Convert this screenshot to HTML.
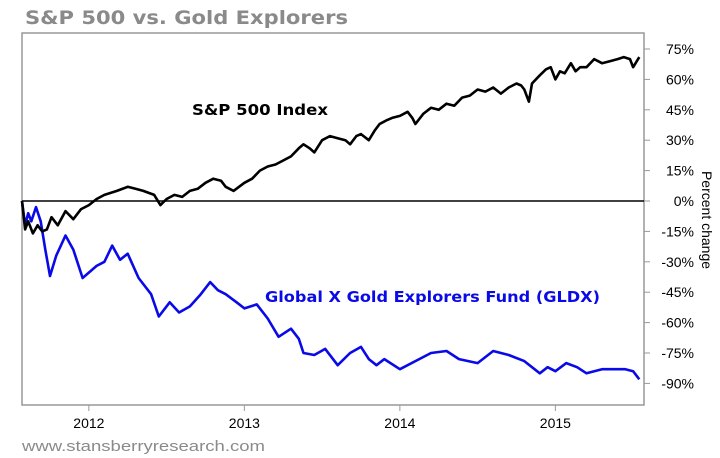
<!DOCTYPE html>
<html><head><meta charset="utf-8"><style>
body{margin:0;background:#fff;}
svg{display:block;font-family:"Liberation Sans",Arial,sans-serif;}
</style></head><body>
<svg id="chart" width="720" height="458" viewBox="0 0 720 458">
<text x="25" y="24" font-size="19" font-weight="bold" fill="#8a8a8a" font-family="DejaVu Sans, sans-serif" textLength="323" lengthAdjust="spacingAndGlyphs">S&amp;P 500 vs. Gold Explorers</text>
<rect x="22" y="33" width="622" height="372" fill="none" stroke="#999" stroke-width="1.5"/>
<g id="axes"></g>
<g id="series"></g>
<text x="192" y="115" font-size="15" font-weight="bold" fill="#000" font-family="DejaVu Sans, sans-serif" textLength="136" lengthAdjust="spacingAndGlyphs">S&amp;P 500 Index</text>
<text x="265" y="302" font-size="15" font-weight="bold" fill="#0a0ae8" font-family="DejaVu Sans, sans-serif" textLength="335" lengthAdjust="spacingAndGlyphs">Global X Gold Explorers Fund (GLDX)</text>
<text transform="translate(702,220) rotate(90)" text-anchor="middle" font-size="14" fill="#000">Percent change</text>
<text x="22" y="451" font-size="15" fill="#8a8a8a" textLength="243" lengthAdjust="spacingAndGlyphs">www.stansberryresearch.com</text>
</svg>
<script>
const yTicks = [75,60,45,30,15,0,-15,-30,-45,-60,-75,-90];
const xYears = [2012,2013,2014,2015];
const spDates = [2011.57,2011.59,2011.61,2011.64,2011.67,2011.70,2011.73,2011.76,2011.80,2011.85,2011.90,2011.95,2012.0,2012.05,2012.1,2012.18,2012.25,2012.3,2012.35,2012.42,2012.46,2012.5,2012.55,2012.6,2012.65,2012.7,2012.75,2012.8,2012.85,2012.88,2012.93,2013.0,2013.05,2013.1,2013.15,2013.2,2013.25,2013.3,2013.35,2013.38,2013.42,2013.45,2013.5,2013.55,2013.6,2013.65,2013.68,2013.72,2013.75,2013.8,2013.84,2013.87,2013.92,2013.95,2014.0,2014.05,2014.08,2014.1,2014.15,2014.2,2014.25,2014.3,2014.35,2014.4,2014.45,2014.5,2014.55,2014.6,2014.65,2014.7,2014.75,2014.78,2014.8,2014.83,2014.85,2014.9,2014.94,2014.97,2015.0,2015.03,2015.06,2015.1,2015.13,2015.16,2015.2,2015.25,2015.3,2015.35,2015.4,2015.44,2015.48,2015.5,2015.54];
const spValues = [0,-14,-10,-16,-12,-15,-14,-8,-12,-5,-9,-4,-2,1,3,5,7,6,5,3,-2,1,3,2,5,6,9,11,10,7,5,9,11,15,17,18,20,22,26,28,26,24,30,32,31,30,28,32,33,30,35,38,40,41,42,44,41,38,43,46,45,48,47,51,52,55,54,56,53,56,58,57,55,49,58,62,65,66,60,64,63,68,64,66,66,70,68,69,70,71,70,66,71];
const gxDates = [2011.57,2011.59,2011.61,2011.63,2011.66,2011.69,2011.72,2011.75,2011.79,2011.85,2011.9,2011.96,2012.05,2012.1,2012.15,2012.2,2012.25,2012.32,2012.4,2012.45,2012.52,2012.58,2012.65,2012.72,2012.78,2012.83,2012.88,2012.95,2013.0,2013.08,2013.15,2013.22,2013.3,2013.35,2013.38,2013.45,2013.52,2013.6,2013.68,2013.75,2013.8,2013.85,2013.9,2014.0,2014.1,2014.2,2014.3,2014.38,2014.5,2014.6,2014.7,2014.8,2014.9,2014.95,2015.0,2015.07,2015.14,2015.2,2015.3,2015.45,2015.5,2015.54];
const gxValues = [0,-12,-6,-10,-3,-10,-24,-37,-27,-17,-24,-38,-32,-30,-22,-29,-26,-38,-46,-57,-50,-55,-52,-46,-40,-44,-46,-50,-53,-51,-58,-67,-63,-68,-75,-76,-73,-81,-75,-72,-78,-81,-78,-83,-79,-75,-74,-78,-80,-74,-76,-79,-85,-82,-84,-80,-82,-85,-83,-83,-84,-88];

const X0=22,X1=644,T0=2011.57,T1=2015.57;
const xScale = t => X0 + (t - T0) / (T1 - T0) * (X1 - X0);
const yScale = v => 201 - v / 15 * 30.4;
const NS="http://www.w3.org/2000/svg";
const axes=document.getElementById('axes'), series=document.getElementById('series');
function mk(tag,attrs,parent){const e=document.createElementNS(NS,tag);for(const k in attrs)e.setAttribute(k,attrs[k]);parent.appendChild(e);return e;}

yTicks.forEach(v=>{
  const y=yScale(v);
  const tk=mk('line',{x1:644,x2:650,y1:y,y2:y,stroke:'#999'},axes);
  
  
  const tx=mk('text',{x:694,y:y+5,'font-size':14,'text-anchor':'end',fill:'#000'},axes);
  tx.textContent=v+'%';
  
  
});
xYears.forEach(yr=>{
  const x=xScale(yr);
  const tk=mk('line',{x1:x,x2:x,y1:405,y2:411,stroke:'#999'},axes);
  
  
  const tx=mk('text',{x:x,y:428,'font-size':14,'text-anchor':'middle',fill:'#000'},axes);
  tx.textContent=yr;
  
  
});
const zl=mk('line',{x1:X0,x2:X1,y1:yScale(0),y2:yScale(0),stroke:'#000','stroke-width':1.5},axes);



function path(d,v){return d.map((t,i)=>(i?'L':'M')+xScale(t).toFixed(1)+','+yScale(v[i]).toFixed(1)).join('');}
const g=mk('path',{d:path(gxDates,gxValues),fill:'none',stroke:'#0a0ae8','stroke-width':2.6,'stroke-linejoin':'round'},series);


const s=mk('path',{d:path(spDates,spValues),fill:'none',stroke:'#000','stroke-width':2.6,'stroke-linejoin':'round'},series);


</script>
</body></html>
